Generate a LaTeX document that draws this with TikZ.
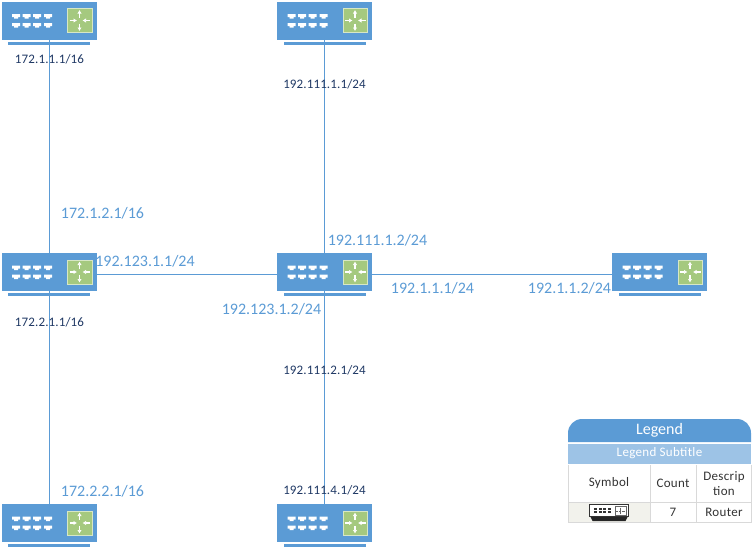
\documentclass[tikz,border=0pt]{standalone}
\usepackage{fontspec}
\setmainfont{Carlito}
\usetikzlibrary{arrows.meta}
\definecolor{routerblue}{HTML}{5B9BD5}
\definecolor{routergreen}{HTML}{A5C97F}
\definecolor{subblue}{HTML}{9DC3E6}
\definecolor{labeldark}{HTML}{1F3864}
\definecolor{symbolbg}{HTML}{F2F2EC}
\tikzset{
  routerbox/.style={fill=routerblue,minimum width=95pt,minimum height=38pt,inner sep=0pt,outer sep=0pt},
  linkline/.style={draw=routerblue,line width=.8pt},
  biglabel/.style={text=routerblue,font=\fontsize{16}{16}\selectfont,inner sep=0pt},
  smalllabel/.style={text=labeldark,font=\fontsize{13}{13}\selectfont\addfontfeature{LetterSpace=1},inner sep=0pt},
  legendtext/.style={font=\fontsize{13}{15}\selectfont\addfontfeature{LetterSpace=2.5},inner sep=0pt,text=black!80},
  grid/.style={draw=black!15,line width=.8pt},
  routerarrow/.style={white,line width=1.1pt,-{Latex[length=3.5pt,width=4.5pt]}},
  router/.pic={
    \fill[routerblue] (-41,21) rectangle (41,24);
    \foreach \px in {-33,-22.5,-12,-1}
      \foreach \py in {-6.5,2.5}
        \fill[white] (\px-4,\py) -- ++(8,0) -- ++(0,3) -- ++(-2,0) -- ++(0,1.7) -- ++(-4,0) -- ++(0,-1.7) -- ++(-2,0) -- cycle;
    \fill[routergreen,draw=white!55!routergreen,line width=1pt] (18.5,-12) rectangle (43,12);
    \draw[routerarrow] (30.5,-3) -- (30.5,-10.5);
    \draw[routerarrow] (30.5,3) -- (30.5,10.5);
    \draw[routerarrow] (20.5,0) -- (28,0);
    \draw[routerarrow] (41,0) -- (33.5,0);
  }
}
\begin{document}
\begin{tikzpicture}[x=1pt,y=-1pt]
\useasboundingbox (0,0) rectangle (753,549);
% routers
\node[routerbox] (rtl) at (49,20.5) {};
\node[routerbox] (rtm) at (324.5,20.5) {};
\node[routerbox] (rl) at (49,272) {};
\node[routerbox] (rc) at (324.5,272) {};
\node[routerbox] (rr) at (659.5,272) {};
\node[routerbox] (rbl) at (49,523) {};
\node[routerbox] (rbm) at (324.5,523) {};
\foreach \r in {rtl,rtm,rl,rc,rr,rbl,rbm}
  \pic at (\r) {router};
% links
\draw[linkline] (rtl.south) -- (rl.north);
\draw[linkline] (rl.south) -- (rbl.north);
\draw[linkline] (rtm.south) -- (rc.north);
\draw[linkline] (rc.south) -- (rbm.north);
\draw[linkline] ([yshift=-2pt]rl.east) -- ([yshift=-2pt]rc.west);
\draw[linkline] ([yshift=-2pt]rc.east) -- ([yshift=-2pt]rr.west);
% addresses
\node[smalllabel] (a1) at (49.5,59) {172.1.1.1/16};
\node[smalllabel] (a2) at (324.5,84) {192.111.1.1/24};
\node[smalllabel] (a3) at (49.5,322) {172.2.1.1/16};
\node[smalllabel] (a4) at (324.5,370) {192.111.2.1/24};
\node[smalllabel] (a5) at (324.5,490) {192.111.4.1/24};
\node[biglabel] (b1) at (102.5,213) {172.1.2.1/16};
\node[biglabel] (b2) at (145,261) {192.123.1.1/24};
\node[biglabel] (b3) at (377.5,240) {192.111.1.2/24};
\node[biglabel] (b4) at (271.5,309) {192.123.1.2/24};
\node[biglabel] (b5) at (432.5,288) {192.1.1.1/24};
\node[biglabel] (b6) at (569.5,288) {192.1.1.2/24};
\node[biglabel] (b7) at (102.5,491) {172.2.2.1/16};
% legend
\fill[routerblue] (568,442) [rounded corners=14pt] -- (568,419) -- (751,419) [sharp corners] -- (751,442) -- cycle;
\fill[subblue] (568,444) rectangle (751,464);
\fill[symbolbg] (568,503) rectangle (650,522);
\draw[grid] (568,465) -- (568,522) -- (751,522) -- (751,465);
\draw[grid] (568,502.5) -- (751,502.5);
\draw[grid] (650,465) -- (650,522);
\draw[grid] (696,465) -- (696,522);
\node[legendtext,text=white,font=\fontsize{16}{16}\selectfont] (legtitle) at (659.5,430) {Legend};
\node[legendtext,text=white] (legsub) at (659.5,453) {Legend Subtitle};
\node[legendtext] (colsym) at (609,483) {Symbol};
\node[legendtext] (colcnt) at (673,483) {Count};
\node[legendtext,align=center] (coldes) at (724,484) {Descrip\\tion};
\node[legendtext] (cnt) at (673,512) {7};
\node[legendtext] (desc) at (724,512) {Router};
% legend symbol
\fill[black!85] (590,516) -- (628,516) -- (625.5,521) -- (592.5,521) -- cycle;
\draw[draw=black!80,fill=white,line width=.9pt] (589.5,504.5) rectangle (628.5,516.5);
\foreach \px in {594,598.5,603,607.5}
  \foreach \py in {508,511.2}
    \fill[black!80] (\px,\py) rectangle +(3,1.8);
\draw[black!60,line width=.6pt] (615,506.5) rectangle (626,515);
\draw[black!60,line width=.4pt,densely dotted] (620.5,507.5) -- (620.5,514.5) (616,510.8) -- (625,510.8);
\end{tikzpicture}
\end{document}
